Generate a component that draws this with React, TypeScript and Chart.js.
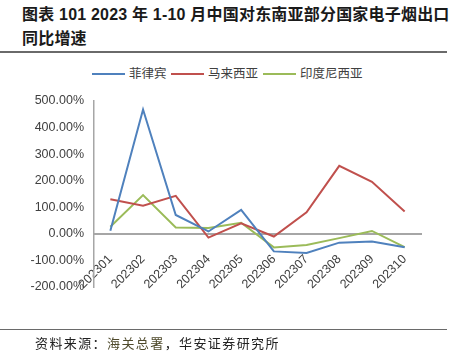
import React, { useEffect, useRef } from "react";
import { Chart, registerables } from "chart.js";

Chart.register(...registerables);

const categories = ["202301", "202302", "202303", "202304", "202305", "202306", "202307", "202308", "202309", "202310"];
const philippines = [12, 468, 71, 9, 90, -66, -72, -33, -29, -50];
const malaysia = [130, 106, 143, -14, 40, -10, 81, 256, 196, 84];
const indonesia = [27, 146, 24, 22, 42, -51, -42, -16, 11, -50];
const seriesNames = ["菲律宾", "马来西亚", "印度尼西亚"];
const seriesColors = ["#4F81BD", "#C0504D", "#9BBB59"];
const yTicks = [-200, -100, 0, 100, 200, 300, 400, 500];

const W = 455;
const H = 361;
const TICK_FONT = "'Liberation Sans', Arial, sans-serif";
const CJK = "'Noto Sans CJK SC', sans-serif";

export default function App() {
  const ref = useRef<HTMLCanvasElement | null>(null);

  useEffect(() => {
    if (!ref.current) return;
    const chart = new Chart(ref.current, {
      type: "line",
      data: {
        labels: categories,
        datasets: [philippines, malaysia, indonesia].map((d, i) => ({
          label: seriesNames[i],
          data: d,
          borderColor: seriesColors[i],
          backgroundColor: seriesColors[i],
          borderWidth: 2,
          pointRadius: 0,
          tension: 0,
          fill: false,
        })),
      },
      options: {
        responsive: false,
        animation: false,
        layout: { padding: { top: 101, bottom: 74, left: 0, right: 34 } },
        plugins: { legend: { display: false }, tooltip: { enabled: false } },
        scales: {
          x: {
            type: "category",
            position: { y: 0 } as any,
            offset: true,
            grid: { display: false, drawTicks: false },
            border: { display: true, color: "#A6A6A6", width: 2 },
            ticks: {
              autoSkip: false,
              minRotation: 45,
              maxRotation: 45,
              padding: 18,
              color: "#404040",
              font: { family: TICK_FONT, size: 12.5 },
            },
          },
          y: {
            min: yTicks[0],
            max: yTicks[yTicks.length - 1],
            afterBuildTicks: (scale: any) => {
              scale.ticks = yTicks.map((v) => ({ value: v }));
            },
            afterFit: (scale: any) => {
              scale.width = 94;
            },
            grid: { display: false, drawTicks: false },
            border: { display: true, color: "#A6A6A6", width: 1.5 },
            ticks: {
              padding: 10,
              color: "#404040",
              font: { family: TICK_FONT, size: 12.5 },
              callback: (v: any) => Number(v).toFixed(2) + "%",
            },
          },
        },
      },
    });
    return () => chart.destroy();
  }, []);

  const legendItems = [
    { line: 92, text: 129 },
    { line: 171, text: 208 },
    { line: 263, text: 300 },
  ];

  return (
    <div style={{ position: "fixed", left: 0, top: 0, width: W, height: H, background: "#fff", overflow: "hidden" }}>
      <div
        style={{
          position: "absolute",
          left: 22,
          top: 3,
          fontFamily: "'Liberation Sans', Arial, " + CJK,
          fontWeight: "bold",
          fontSize: 16,
          lineHeight: "24px",
          letterSpacing: "0.2px",
          color: "#1a1a1a",
          whiteSpace: "nowrap",
        }}
      >
        图表 101 2023 年 1-10 月中国对东南亚部分国家电子烟出口
        <br />
        同比增速
      </div>
      <div style={{ position: "absolute", left: 0, top: 51, width: 447, height: 1.5, background: "#6a6a6a" }} />
      {legendItems.map((it, i) => (
        <React.Fragment key={i}>
          <div style={{ position: "absolute", left: it.line, top: 72.5, width: 33, height: 2, background: seriesColors[i] }} />
          <div
            style={{
              position: "absolute",
              left: it.text,
              top: 64,
              fontFamily: CJK,
              fontSize: 12.5,
              lineHeight: "18px",
              color: "#404040",
              whiteSpace: "nowrap",
            }}
          >
            {seriesNames[i]}
          </div>
        </React.Fragment>
      ))}
      <canvas ref={ref} width={W} height={H} style={{ position: "absolute", left: 0, top: 0, width: W, height: H }} />
      <div style={{ position: "absolute", left: 0, top: 328.5, width: 447, height: 1.5, background: "#6a6a6a" }} />
      <div
        style={{
          position: "absolute",
          left: 35,
          top: 334,
          fontFamily: CJK,
          fontSize: 13,
          lineHeight: "18px",
          letterSpacing: "1.4px",
          color: "#222",
          whiteSpace: "nowrap",
        }}
      >
        资料来源：<span style={{ color: "#4f4a2c" }}>海关总署</span>，华安证券研究所
      </div>
    </div>
  );
}
